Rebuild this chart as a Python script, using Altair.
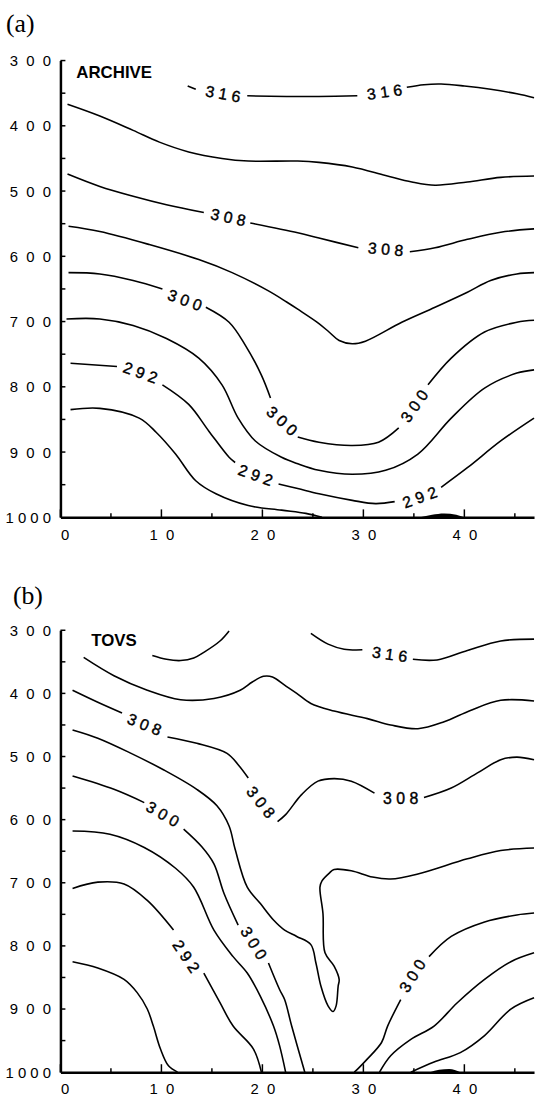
import altair as alt
import pandas as pd

NB = "\u00a0"
X_MAX = 46.9
X_TICKS = [0, 10, 20, 30, 40]
X_MINOR = [5, 15, 25, 35, 45]
Y_TICKS = [300, 400, 500, 600, 700, 800, 900, 1000]
Y_ALL = [300, 350, 400, 450, 500, 550, 600, 650, 700, 750, 800, 850, 900, 950]

# ---------------- panel (a) ARCHIVE : (distance, pressure) ----------------
a316_1 = [(12.6, 339), (13.4, 344)]
a316_2 = [(18.5, 354), (22.4, 355), (25.6, 355), (29.4, 354)]
a316_3 = [(34.3, 341), (36.0, 337), (37.7, 336), (40.0, 339), (42.6, 344), (45.2, 351), (46.9, 357)]
a312 = [(0.7, 367), (3.9, 385), (7.2, 407), (9.8, 425), (12.7, 440), (16.0, 450), (18.6, 454),
        (23.5, 454), (25.6, 456), (28.9, 463), (32.2, 476), (34.8, 486), (37.1, 491), (40.3, 486),
        (43.6, 479), (46.9, 477)]
a308_1 = [(0.7, 474), (3.9, 493), (7.2, 508), (10.5, 521), (14.2, 533)]
a308_2 = [(18.8, 549), (23.5, 564), (25.6, 572), (29.5, 587)]
a308_3 = [(34.6, 593), (37.1, 587), (40.3, 574), (43.6, 563), (46.9, 558)]
a304 = [(0.8, 554), (3.9, 562), (8.8, 582), (13.7, 605), (17.0, 625), (20.6, 653), (22.4, 670),
        (23.5, 681), (25.6, 703), (26.6, 716), (27.6, 729), (28.9, 734), (30.2, 730), (33.8, 701),
        (37.1, 678), (40.3, 655), (42.6, 637), (45.2, 627), (46.9, 625)]
a300_1 = [(0.8, 625), (3.9, 627), (7.2, 637), (10.1, 650)]
a300_2 = [(14.4, 678), (16.7, 701), (18.3, 736), (19.9, 782), (20.8, 817)]
a300_3 = [(23.5, 877), (25.6, 885), (28.9, 890), (31.5, 885), (33.5, 863)]
a300_4 = [(36.4, 797), (38.7, 756), (42.0, 716), (45.2, 701), (46.9, 698)]
a296 = [(0.6, 696), (3.9, 696), (7.2, 706), (10.5, 726), (13.7, 756), (16.0, 797), (17.6, 848),
        (19.3, 883), (21.9, 908), (23.5, 918), (25.6, 928), (28.9, 934), (32.2, 928), (35.4, 903),
        (38.7, 848), (42.0, 802), (45.2, 779), (46.9, 774)]
a292_1 = [(1.0, 764), (5.6, 769)]
a292_2 = [(10.1, 797), (12.7, 827), (14.7, 868), (16.7, 908), (17.3, 916)]
a292_3 = [(21.6, 949), (23.5, 956), (25.6, 964), (28.9, 974), (31.2, 979), (33.1, 976)]
a292_4 = [(37.7, 954), (40.3, 924), (43.6, 883), (46.9, 848)]
a288 = [(1.0, 835), (3.9, 833), (7.8, 848), (9.5, 870), (11.4, 903), (13.4, 944), (15.4, 964),
        (18.6, 982), (21.9, 989), (24.3, 994), (25.9, 1000)]
a_blob = [(35.6, 1000), (36.8, 996), (38.0, 994), (39.2, 996), (40.0, 1000)]

a_labels = [(16.1, 352, "316", 10), (32.1, 349, "316", 352), (16.6, 541, "308", 12),
            (32.2, 590, "308", 5), (12.3, 668, "300", 20), (21.9, 853, "300", 42),
            (35.1, 830, "300", 305), (7.9, 779, "292", 20), (19.3, 936, "292", 20),
            (35.6, 970, "292", 340)]

# ---------------- panel (b) TOVS ----------------
b_arc = [(9.1, 340), (10.5, 346), (11.9, 348), (13.2, 344), (14.2, 335), (15.8, 317), (16.7, 301)]
b316_1 = [(24.8, 305), (26.5, 322), (28.1, 330), (29.9, 331)]
b316_2 = [(34.9, 346), (37.3, 347), (40.3, 332), (43.6, 317), (46.9, 314)]
b312 = [(2.3, 343), (5.3, 372), (8.6, 395), (11.9, 410), (15.2, 408), (17.8, 395), (19.0, 382),
        (20.1, 373), (21.0, 374), (22.2, 387), (23.4, 400), (24.8, 416), (27.1, 428), (30.4, 440),
        (32.7, 450), (35.4, 456), (38.0, 445), (40.6, 427), (43.6, 411), (46.9, 412)]
b308_1 = [(1.2, 395), (3.7, 414), (6.1, 431)]
b308_2 = [(10.6, 469), (13.5, 479), (16.5, 495), (17.6, 513), (18.6, 534)]
b308_3 = [(21.5, 603), (22.3, 592), (23.9, 560), (25.5, 539), (27.1, 535), (28.8, 539), (31.1, 558)]
b308_4 = [(36.0, 565), (38.7, 550), (41.3, 526), (43.6, 505), (45.2, 501), (46.9, 505)]
b304 = [(1.2, 458), (3.7, 471), (7.0, 495), (10.2, 521), (13.5, 552), (15.5, 578), (16.7, 610),
        (17.3, 647), (18.5, 707), (19.8, 733), (21.1, 759), (22.2, 775), (23.4, 785), (24.8, 798),
        (25.3, 827), (25.8, 864), (26.5, 895), (27.0, 904), (27.3, 895), (27.5, 864), (27.6, 853),
        (27.1, 832), (26.2, 811), (26.0, 749), (25.7, 707), (25.9, 697), (26.6, 685), (27.1, 679),
        (28.8, 681), (30.9, 691), (32.7, 694), (35.4, 686), (40.3, 662), (43.6, 649), (46.9, 645)]
b300_1 = [(1.2, 531), (5.3, 552), (8.3, 573)]
b300_2 = [(12.2, 615), (14.0, 643), (15.2, 670), (16.2, 717), (17.6, 767)]
b300_3 = [(20.6, 827), (21.7, 869), (22.2, 885), (22.9, 927), (24.2, 1000)]
b300_r1 = [(29.1, 1000), (29.5, 994), (30.4, 979), (31.8, 953), (32.4, 927), (33.7, 885)]
b300_r2 = [(36.5, 817), (38.7, 785), (42.0, 762), (45.2, 751), (46.9, 748)]
b296 = [(1.2, 618), (4.9, 623), (8.3, 644), (11.4, 677), (13.2, 707), (15.2, 775), (17.1, 817),
        (18.5, 843), (19.8, 880), (21.1, 927), (21.7, 958), (22.3, 1000)]
b296_r = [(31.6, 1000), (32.7, 974), (34.7, 948), (37.0, 927), (39.3, 890), (42.0, 853),
          (44.6, 825), (46.9, 811)]
b292_1 = [(1.2, 709), (3.7, 699), (6.3, 702), (8.6, 728), (11.2, 775)]
b292_2 = [(14.2, 843), (15.8, 890), (17.1, 927), (19.1, 963), (19.9, 1000)]
b292_r = [(34.7, 1000), (37.0, 984), (39.6, 969), (42.0, 942), (44.6, 900), (46.9, 882)]
b288 = [(1.2, 825), (3.7, 835), (6.3, 853), (7.6, 874), (8.6, 900), (9.2, 927), (9.9, 963),
        (10.7, 990), (11.6, 1000)]
b_blob = [(36.6, 1000), (37.5, 996), (38.5, 995), (39.6, 1000)]

b_labels = [(32.6, 339, "316", 8), (8.3, 450, "308", 22), (19.8, 573, "308", 52),
            (33.7, 568, "308", 0), (10.1, 592, "300", 30), (19.1, 796, "300", 58),
            (34.9, 848, "300", 302), (12.4, 817, "292", 56)]

A_SEGS = [a316_1, a316_2, a316_3, a312, a308_1, a308_2, a308_3, a304, a300_1, a300_2, a300_3,
          a300_4, a296, a292_1, a292_2, a292_3, a292_4, a288]
B_SEGS = [b_arc, b316_1, b316_2, b312, b308_1, b308_2, b308_3, b308_4, b304, b300_1, b300_2,
          b300_3, b300_r1, b300_r2, b296, b296_r, b292_1, b292_2, b292_r, b288]


def seg_df(segs):
    rows = []
    for k, pts in enumerate(segs):
        for i, (x, p) in enumerate(pts):
            rows.append({"x": x, "p": p, "seg": k, "i": i})
    return pd.DataFrame(rows)


def lab_df(labels):
    return pd.DataFrame([{"x": x, "p": p, "t": NB.join(t), "ang": a} for x, p, t, a in labels])


def blob_df(pts):
    return pd.DataFrame([{"x": x, "p": p, "base": 1000} for x, p in pts])


SANS = "Liberation Sans"
xlab = "join(split(datum.label, ''), '" + NB + NB + "')"
ylab = "datum.value == 1000 ? '1" + NB + "0" + NB + "0" + NB + "0' : join(split(datum.label, ''), '" + NB + NB + "')"


def panel(segs, labels, blob, tag, tag_xy, name, name_xy, W, H):
    sx = alt.Scale(domain=[0, X_MAX], nice=False, zero=False)
    sy = alt.Scale(domain=[300, 1000], reverse=True, nice=False, zero=False)
    xax = alt.Axis(values=X_TICKS, format="d", labelExpr=xlab, tickSize=0, labelPadding=10,
                   domainWidth=2.5, domainColor="black", labelFont=SANS, labelFontSize=15,
                   labelColor="black", grid=False, title=None, labelAngle=0)
    yax = alt.Axis(values=Y_TICKS, format="d", labelExpr=ylab, tickSize=0, labelPadding=10,
                   domainWidth=2.5, domainColor="black", labelFont=SANS, labelFontSize=15,
                   labelColor="black", grid=False, title=None)
    X = lambda f: alt.X(f, scale=sx, axis=xax)
    Y = lambda f: alt.Y(f, scale=sy, axis=yax)

    lines = alt.Chart(seg_df(segs)).mark_line(
        color="black", strokeWidth=1.6, interpolate="catmull-rom").encode(
        x=X("x:Q"), y=Y("p:Q"), detail="seg:N", order="i:Q")
    blobs = alt.Chart(blob_df(blob)).mark_area(color="black", interpolate="monotone").encode(
        x=X("x:Q"), y=Y("p:Q"), y2="base:Q")
    texts = alt.Chart(lab_df(labels)).mark_text(
        font=SANS, fontSize=16, color="black", stroke="black", strokeWidth=0.4,
        align="center", baseline="middle").encode(
        x=X("x:Q"), y=Y("p:Q"), text="t:N", angle=alt.Angle("ang:Q", scale=None))
    xt_major = alt.Chart(pd.DataFrame({"v": X_TICKS})).mark_rule(color="black", strokeWidth=1.5).encode(
        x=X("v:Q"), y=alt.value(H), y2=alt.value(H - 8))
    xt_minor = alt.Chart(pd.DataFrame({"v": X_MINOR})).mark_rule(color="black", strokeWidth=1.5).encode(
        x=X("v:Q"), y=alt.value(H), y2=alt.value(H - 4))
    yt = alt.Chart(pd.DataFrame({"v": Y_ALL})).mark_rule(color="black", strokeWidth=1.5).encode(
        y=Y("v:Q"), x=alt.value(0), x2=alt.value(5))
    tag_t = alt.Chart(pd.DataFrame({"t": [tag]})).mark_text(
        font="Liberation Serif", fontSize=26, color="black", align="left", baseline="middle").encode(
        x=alt.value(tag_xy[0]), y=alt.value(tag_xy[1]), text="t:N")
    name_t = alt.Chart(pd.DataFrame({"t": [name]})).mark_text(
        font=SANS, fontSize=17, fontWeight="bold", color="black", align="left", baseline="middle").encode(
        x=alt.value(name_xy[0]), y=alt.value(name_xy[1]), text="t:N")
    return alt.layer(lines, blobs, texts, xt_major, xt_minor, yt, tag_t, name_t).properties(
        width=W, height=H)


pa = panel(A_SEGS, a_labels, a_blob, "(a)", (-55, -37), "ARCHIVE", (16, 13), 478, 461)
pb = panel(B_SEGS, b_labels, b_blob, "(b)", (-48, -35), "TOVS", (31, 11), 478, 446)

chart = alt.vconcat(pa, pb, spacing=114, bounds="flush").configure_view(stroke=None).properties(
    padding={"left": 5, "top": 6, "right": 0, "bottom": 0}, background="white")

chart.save("out.html", embed_options={"renderer": "svg", "actions": False})
